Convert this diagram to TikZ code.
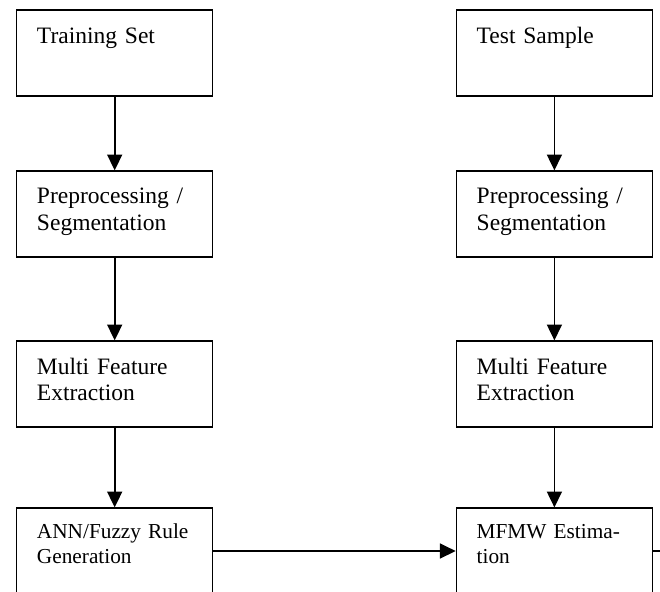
\documentclass[tikz,border=0pt]{standalone}
\usepackage{fontspec}
\setmainfont{Liberation Serif}
\usepackage{tikz}
\usetikzlibrary{arrows.meta}

\begin{document}
\begin{tikzpicture}[
  block/.style={draw, rectangle, line width=1.1pt, minimum width=6.54cm,
    text width=5.18cm, inner xsep=0.68cm, inner ysep=0pt, align=left,
    font=\fontsize{22.3}{25.6}\selectfont, text height=1.1cm, text depth=1.767cm},
  lowblock/.style={block, font=\fontsize{20.2}{23.7}\selectfont,
    text height=1cm, text depth=1.867cm},
  flow/.style={line width=1.6pt, -{Triangle[length=0.53cm, width=0.5cm]}}]
  \useasboundingbox (0,0) rectangle (22,-19.733);
  % Define nodes
  \node[block] (TrainSet) at (3.823, -1.767) {Training Set};
  \node[block] (TrainPre) at (3.823, -7.133) {Preprocessing /\\Segmentation};
  \node[block] (TrainFeat) at (3.823, -12.8) {Multi Feature\\Extraction};
  \node[lowblock] (Rules) at (3.823, -18.367) {ANN/Fuzzy Rule\\Generation};
  \node[block] (TestSample) at (18.48, -1.767) {Test Sample};
  \node[block] (TestPre) at (18.48, -7.133) {Preprocessing /\\Segmentation};
  \node[block] (TestFeat) at (18.48, -12.8) {Multi Feature\\Extraction};
  \node[lowblock] (MFMW) at (18.48, -18.367) {MFMW Estima-\\tion};
  \coordinate (out) at (22, -18.367);

  % Define edges
  \draw[flow] (TrainSet) -- (TrainPre);
  \draw[flow] (TrainPre) -- (TrainFeat);
  \draw[flow] (TrainFeat) -- (Rules);
  \draw[flow] (TestSample) -- (TestPre);
  \draw[flow] (TestPre) -- (TestFeat);
  \draw[flow] (TestFeat) -- (MFMW);
  \draw[flow] (Rules) -- (MFMW);
  \draw[line width=1.6pt] (MFMW) -- (out);
\end{tikzpicture}
\end{document}
